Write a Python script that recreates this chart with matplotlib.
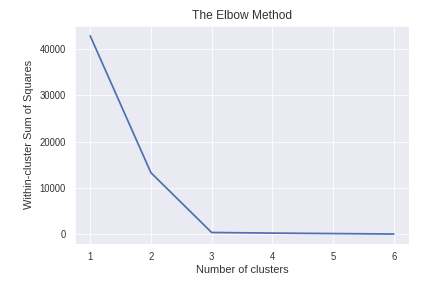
import matplotlib
matplotlib.use('Agg')
import matplotlib.pyplot as plt
import seaborn as sns

# Elbow method results
n_clusters = [1, 2, 3, 4, 5, 6]
wcss = [42750, 13300, 430, 300, 200, 100]

sns.set_style('darkgrid')
plt.rcParams['font.family'] = ['Liberation Sans', 'DejaVu Sans']
plt.rcParams['text.color'] = '.2'
plt.rcParams['axes.labelcolor'] = '.2'
plt.rcParams['xtick.color'] = '.2'
plt.rcParams['ytick.color'] = '.2'

fig = plt.figure(figsize=(431 / 72, 288 / 72), dpi=72)
ax = fig.add_axes([0.174, 0.153, 0.775, 0.757])

ax.plot(n_clusters, wcss, color='#4C72B0', linewidth=1.75)
ax.set_title('The Elbow Method', fontsize=12, pad=7)
ax.set_xlabel('Number of clusters', fontsize=11, labelpad=3)
ax.set_ylabel('Within-cluster Sum of Squares', fontsize=11, labelpad=6)
ax.tick_params(axis='both', labelsize=9.5, length=0)
ax.tick_params(axis='y', pad=9)
ax.tick_params(axis='x', pad=8)
ax.set_yticks([0, 10000, 20000, 30000, 40000])

fig.savefig('out.png', dpi=72)
